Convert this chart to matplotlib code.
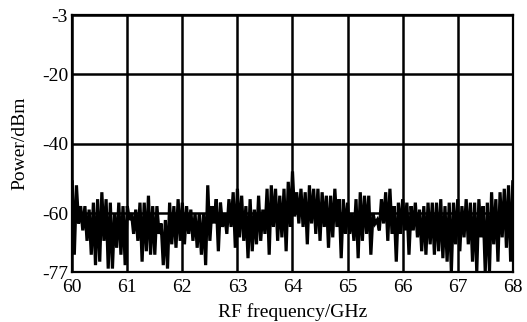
import numpy as np
import matplotlib
matplotlib.use("Agg")
import matplotlib.pyplot as plt

plt.rcParams['font.family'] = ['Liberation Serif', 'DejaVu Serif']

# Hand-read trace values (dBm), 26 samples per GHz from 60 to 68 GHz
seg_60 = [-51,-72,-52,-63,-58,-65,-58,-68,-59,-72,-57,-75,-56,-74,-54,-68,-56,-76,-57,-76,-60,-70,-57,-72,-58,-75]
seg_61 = [-58,-62,-60,-66,-59,-68,-57,-74,-57,-71,-55,-72,-58,-72,-58,-66,-63,-75,-62,-76,-57,-69,-58,-70,-56,-68]
seg_62 = [-57,-69,-58,-66,-59,-68,-60,-70,-60,-72,-60,-75,-52,-68,-58,-63,-56,-71,-57,-64,-60,-66,-56,-64,-54,-70]
seg_63 = [-53,-67,-55,-68,-58,-73,-56,-71,-59,-69,-55,-68,-59,-66,-53,-72,-52,-64,-53,-68,-55,-67,-53,-71,-51,-64]
seg_64 = [-48,-61,-54,-63,-53,-64,-54,-69,-52,-63,-53,-66,-53,-68,-54,-64,-55,-70,-55,-67,-53,-64,-56,-73,-56,-66]
seg_65 = [-57,-66,-60,-68,-56,-73,-54,-68,-55,-66,-55,-72,-60,-63,-62,-65,-56,-63,-54,-68,-53,-66,-58,-74,-57,-66]
seg_66 = [-56,-65,-57,-72,-58,-65,-57,-67,-59,-71,-58,-72,-57,-69,-57,-72,-57,-71,-56,-73,-58,-74,-57,-77,-57,-69]
seg_67 = [-56,-71,-58,-67,-56,-69,-57,-74,-57,-77,-56,-67,-58,-77,-57,-77,-54,-69,-56,-74,-54,-67,-53,-70,-52,-74]
seg_end = [-51]

f_start, f_stop = 60, 68
power = seg_60 + seg_61 + seg_62 + seg_63 + seg_64 + seg_65 + seg_66 + seg_67 + seg_end
freq = np.linspace(f_start, f_stop, len(power))

x_ticks = [60, 61, 62, 63, 64, 65, 66, 67, 68]
y_ticks = [-3, -20, -40, -60, -77]

fig = plt.figure(figsize=(5.27, 3.22), dpi=100)
ax = fig.add_axes([0.137, 0.155, 0.836, 0.798])

ax.plot(freq, power, color='black', linewidth=2.3, zorder=3, solid_joinstyle='miter')

ax.set_xlim(f_start, f_stop)
ax.set_ylim(-77, -3)
ax.set_xticks(x_ticks)
ax.set_yticks(y_ticks)
ax.set_xticklabels([str(t) for t in x_ticks])
ax.set_yticklabels([str(t) for t in y_ticks])
ax.grid(True, color='black', linewidth=1.8, zorder=1)
for s in ax.spines.values():
    s.set_linewidth(1.6)
    s.set_zorder(4)
ax.tick_params(axis='both', length=0, labelsize=14)
ax.tick_params(axis='x', pad=5)
ax.tick_params(axis='y', pad=3)

ax.set_xlabel('RF frequency/GHz', fontsize=14, labelpad=5)
ax.set_ylabel('Power/dBm', fontsize=14, labelpad=10)

fig.savefig('out.png', dpi=100)
